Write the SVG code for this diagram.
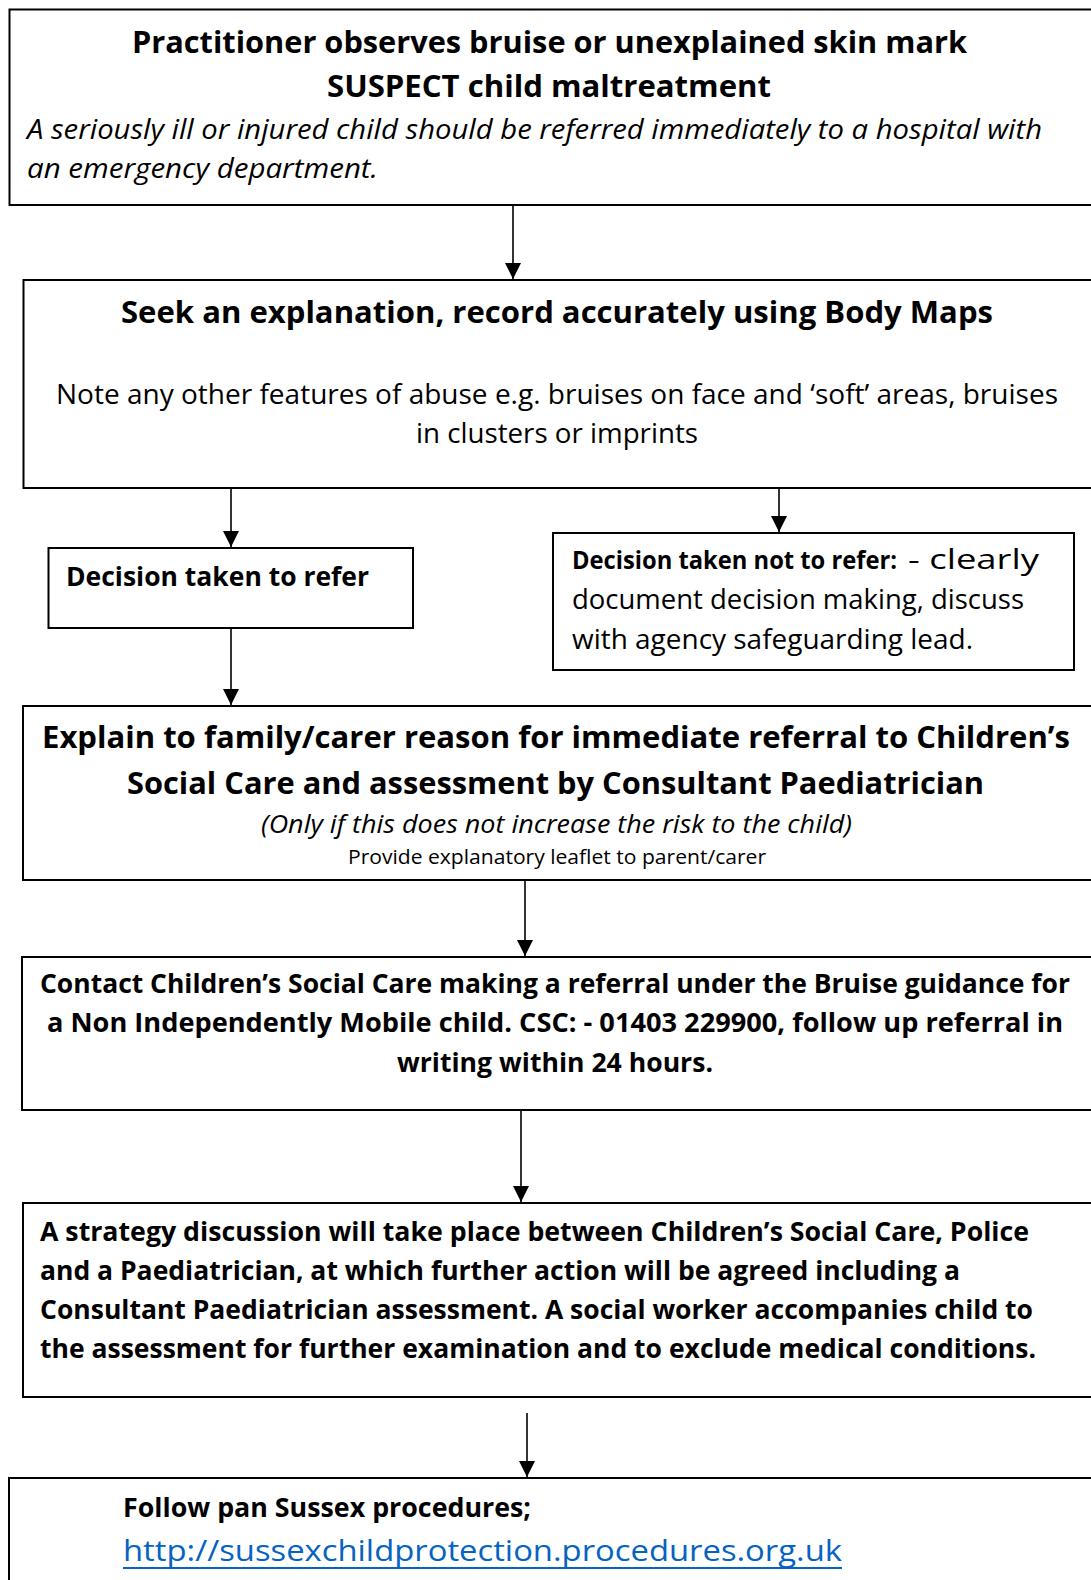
<svg xmlns="http://www.w3.org/2000/svg" width="1091" height="1580" viewBox="0 0 1091 1580">
<style>
.box{fill:#fff;stroke:#000;stroke-width:2}
.t{font-family:"Open Sans","Liberation Sans",sans-serif;fill:#000}
.b{font-weight:bold}
.i{font-style:italic}
.c{stroke:#000;stroke-width:1.6;fill:none}
.link{fill:#0563C1}
</style>
<defs>
<marker id="ah" markerUnits="userSpaceOnUse" markerWidth="17" markerHeight="16" refX="16" refY="8" orient="auto" viewBox="0 0 17 16">
<path d="M0,0 L16,8 L0,16 Z" fill="#000"/>
</marker>
</defs>
<rect width="1091" height="1580" fill="#fff"/>
<g id="connectors">
<line class="c" x1="513" y1="205" x2="513" y2="279" marker-end="url(#ah)"/>
<line class="c" x1="231" y1="488" x2="231" y2="547" marker-end="url(#ah)"/>
<line class="c" x1="779" y1="488" x2="779" y2="532" marker-end="url(#ah)"/>
<line class="c" x1="231" y1="628" x2="231" y2="705" marker-end="url(#ah)"/>
<line class="c" x1="525" y1="880" x2="525" y2="956" marker-end="url(#ah)"/>
<line class="c" x1="521" y1="1110" x2="521" y2="1202" marker-end="url(#ah)"/>
<line class="c" x1="527" y1="1413" x2="527" y2="1477" marker-end="url(#ah)"/>
</g>
<g id="node1">
<rect class="box" x="9.5" y="9.5" width="1100" height="195.5"/>
<text class="t b" x="132" y="53" font-size="30" textLength="835" lengthAdjust="spacingAndGlyphs">Practitioner observes bruise or unexplained skin mark</text>
<text class="t b" x="327" y="97" font-size="30" textLength="444" lengthAdjust="spacingAndGlyphs">SUSPECT child maltreatment</text>
<text class="t i" x="27" y="139" font-size="27" textLength="1015" lengthAdjust="spacingAndGlyphs">A seriously ill or injured child should be referred immediately to a hospital with</text>
<text class="t i" x="27" y="178" font-size="27" textLength="351" lengthAdjust="spacingAndGlyphs">an emergency department.</text>
</g>
<g id="node2">
<rect class="box" x="23.5" y="280" width="1100" height="208"/>
<text class="t b" x="121" y="323" font-size="30" textLength="872" lengthAdjust="spacingAndGlyphs">Seek an explanation, record accurately using Body Maps</text>
<text class="t" x="56" y="404" font-size="27" textLength="1002" lengthAdjust="spacingAndGlyphs">Note any other features of abuse e.g. bruises on face and ‘soft’ areas, bruises</text>
<text class="t" x="416" y="443" font-size="27" textLength="282" lengthAdjust="spacingAndGlyphs">in clusters or imprints</text>
</g>
<g id="node3">
<rect class="box" x="48.5" y="548" width="364.5" height="80"/>
<text class="t b" x="66" y="586" font-size="27" textLength="303" lengthAdjust="spacingAndGlyphs">Decision taken to refer</text>
</g>
<g id="node4">
<rect class="box" x="553" y="533" width="521" height="137"/>
<text class="t b" x="572" y="569" font-size="25" textLength="325" lengthAdjust="spacingAndGlyphs">Decision taken not to refer:</text>
<text class="t" x="908" y="569" font-size="27" textLength="131" lengthAdjust="spacingAndGlyphs">- clearly</text>
<text class="t" x="572" y="609" font-size="27" textLength="452" lengthAdjust="spacingAndGlyphs">document decision making, discuss</text>
<text class="t" x="572" y="649" font-size="27" textLength="401" lengthAdjust="spacingAndGlyphs">with agency safeguarding lead.</text>
</g>
<g id="node5">
<rect class="box" x="23" y="706" width="1100" height="174"/>
<text class="t b" x="42" y="748" font-size="30" textLength="1028" lengthAdjust="spacingAndGlyphs">Explain to family/carer reason for immediate referral to Children’s</text>
<text class="t b" x="127" y="794" font-size="30" textLength="857" lengthAdjust="spacingAndGlyphs">Social Care and assessment by Consultant Paediatrician</text>
<text class="t i" x="261" y="833" font-size="26" textLength="591" lengthAdjust="spacingAndGlyphs">(Only if this does not increase the risk to the child)</text>
<text class="t" x="348" y="864" font-size="20" textLength="418" lengthAdjust="spacingAndGlyphs">Provide explanatory leaflet to parent/carer</text>
</g>
<g id="node6">
<rect class="box" x="22" y="957" width="1100" height="153"/>
<text class="t b" x="40" y="993" font-size="27" textLength="1030" lengthAdjust="spacingAndGlyphs">Contact Children’s Social Care making a referral under the Bruise guidance for</text>
<text class="t b" x="47" y="1032" font-size="27" textLength="1016" lengthAdjust="spacingAndGlyphs">a Non Independently Mobile child. CSC: - 01403 229900, follow up referral in</text>
<text class="t b" x="397" y="1072" font-size="27" textLength="316" lengthAdjust="spacingAndGlyphs">writing within 24 hours.</text>
</g>
<g id="node7">
<rect class="box" x="23" y="1203" width="1100" height="194"/>
<text class="t b" x="40" y="1241" font-size="27" textLength="989" lengthAdjust="spacingAndGlyphs">A strategy discussion will take place between Children’s Social Care, Police</text>
<text class="t b" x="40" y="1280" font-size="27" textLength="920" lengthAdjust="spacingAndGlyphs">and a Paediatrician, at which further action will be agreed including a</text>
<text class="t b" x="40" y="1319" font-size="27" textLength="993" lengthAdjust="spacingAndGlyphs">Consultant Paediatrician assessment. A social worker accompanies child to</text>
<text class="t b" x="40" y="1358" font-size="27" textLength="996" lengthAdjust="spacingAndGlyphs">the assessment for further examination and to exclude medical conditions.</text>
</g>
<g id="node8">
<rect class="box" x="9" y="1478" width="1100" height="200"/>
<text class="t b" x="123" y="1517" font-size="27" textLength="408" lengthAdjust="spacingAndGlyphs">Follow pan Sussex procedures;</text>
<text class="t link" x="123" y="1561" font-size="29" textLength="719" lengthAdjust="spacingAndGlyphs">http://sussexchildprotection.procedures.org.uk</text>
<rect x="123" y="1567" width="719" height="2" fill="#0563C1"/>
</g>
</svg>
